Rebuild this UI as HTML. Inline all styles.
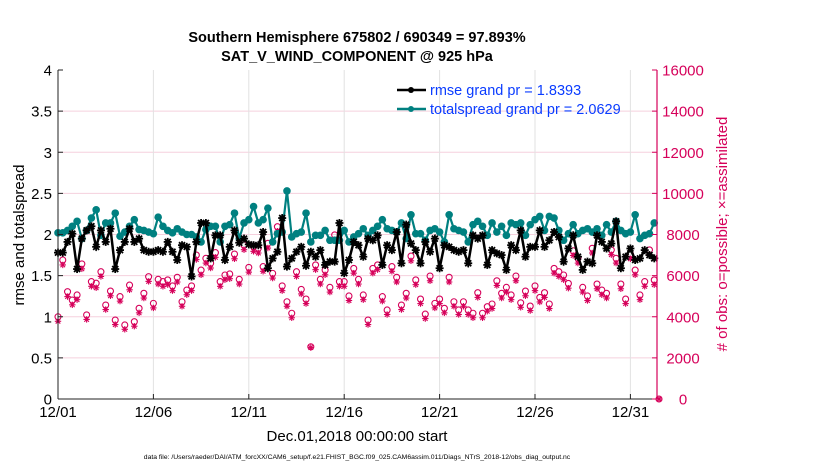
<!DOCTYPE html>
<html><head><meta charset="utf-8"><style>
body{margin:0;background:#fff;}
svg{display:block;font-family:"Liberation Sans",Arial,sans-serif;}
</style></head><body>
<svg id="chart" width="830" height="470">
<text x="357" y="42" text-anchor="middle" font-size="14.5" font-weight="bold">Southern Hemisphere 675802 / 690349 = 97.893%</text>
<text x="357" y="61" text-anchor="middle" font-size="14.5" font-weight="bold">SAT_V_WIND_COMPONENT @ 925 hPa</text>
<g id="grid"></g>
<g id="marks"></g>
<g id="axes"></g>
<text transform="translate(24,235) rotate(-90)" text-anchor="middle" font-size="15">rmse and totalspread</text>
<text transform="translate(727,234) rotate(-90)" text-anchor="middle" font-size="15" fill="#d6005a"># of obs: o=possible; ×=assimilated</text>
<text x="357" y="441" text-anchor="middle" font-size="15">Dec.01,2018 00:00:00 start</text>
<text x="357" y="459" text-anchor="middle" font-size="6.8">data file: /Users/raeder/DAI/ATM_forcXX/CAM6_setup/f.e21.FHIST_BGC.f09_025.CAM6assim.011/Diags_NTrS_2018-12/obs_diag_output.nc</text>
<g>
<line x1="397" y1="90" x2="426" y2="90" stroke="#000" stroke-width="2.5"/><circle cx="411" cy="90" r="3" fill="#000"/>
<text x="430" y="95" font-size="14.5" fill="#0a3cff">rmse grand pr = 1.8393</text>
<line x1="397" y1="109" x2="426" y2="109" stroke="#008080" stroke-width="2.5"/><circle cx="411" cy="109" r="3" fill="#008080"/>
<text x="430" y="114" font-size="14.5" fill="#0a3cff">totalspread grand pr = 2.0629</text>
</g>
</svg>
<script>
const xTickLabels=["12/01","12/06","12/11","12/16","12/21","12/26","12/31"];
const xTickDays=[0,5,10,15,20,25,30];
const yTicksLeft=[0,0.5,1,1.5,2,2.5,3,3.5,4];
const yTicksRight=[0,2000,4000,6000,8000,10000,12000,14000,16000];
const stepDays=0.25;
const rmse=[1.78,1.78,1.91,2.01,1.58,1.95,2.05,2.10,1.85,2.05,1.91,2.07,1.58,1.81,1.91,2.07,1.91,1.95,1.81,1.79,1.79,1.81,1.79,1.91,1.79,1.69,1.87,1.85,1.49,1.91,2.14,2.14,1.71,1.99,1.99,1.69,1.85,2.05,1.90,1.95,1.88,1.87,
1.87,2.03,1.59,1.71,1.79,2.20,1.61,1.71,1.79,1.85,1.62,1.79,1.73,1.81,1.63,1.67,1.67,2.14,1.53,1.69,1.91,1.87,1.73,1.95,1.93,1.99,1.63,1.87,1.81,2.03,1.65,2.12,1.89,1.81,1.65,1.91,1.79,1.95,1.59,1.87,1.85,1.81,1.79,
1.81,1.65,1.99,1.95,1.99,1.63,1.81,1.77,1.75,1.57,1.87,1.81,2.05,1.73,1.85,1.85,2.05,1.85,1.93,2.03,1.97,1.67,1.83,1.99,1.73,1.57,1.67,1.65,1.99,1.91,1.83,1.89,2.16,1.59,1.73,1.83,1.69,1.71,1.81,1.75,1.71];
const totalspread=[2.02,2.02,2.05,2.10,2.16,1.95,2.05,2.20,2.30,1.99,2.14,2.14,2.26,1.98,2.03,2.10,2.18,2.06,2.05,2.03,2.01,2.21,2.10,2.05,2.02,2.07,2.03,2.00,2.00,1.97,1.91,2.06,2.10,2.10,1.91,2.10,2.12,2.26,1.95,2.14,2.18,2.34,
2.14,2.18,2.32,1.91,2.01,2.03,2.53,1.97,2.01,2.03,2.26,1.91,1.99,1.99,2.05,1.93,1.93,1.93,2.05,1.91,1.97,2.01,2.07,1.99,2.05,2.10,2.18,2.07,2.05,2.03,2.14,1.95,2.24,2.01,2.01,1.93,2.05,2.07,2.03,1.91,2.24,2.07,2.05,
2.03,1.91,2.12,2.16,2.10,1.99,2.14,2.03,2.10,1.99,2.14,2.12,2.14,1.99,2.12,2.18,2.22,2.05,2.22,2.20,2.05,1.93,2.01,2.12,2.01,2.05,2.07,2.03,2.07,1.99,2.12,2.03,2.16,2.05,2.01,2.03,2.24,1.95,1.99,2.01,2.14];
const obsPossible=[4000,6760,5220,4810,5060,6570,4090,5710,5630,6190,4570,5250,3840,4980,3600,5540,3760,4410,5140,5950,4650,5820,5710,5790,5500,5920,4730,5300,5500,7000,6270,6840,6600,7120,5710,6030,6080,7050,5820,7490,6400,7410,
7330,6440,7570,6110,8380,5500,4730,4170,6190,5330,4860,2540,6520,5820,6270,5430,7980,5710,5710,5010,6350,5820,5060,3840,6350,6520,4980,4330,6440,5920,4570,5140,6950,5790,4860,4130,5980,4650,4860,4410,5920,4730,4330,
4730,4330,4170,5170,4170,4490,4620,5750,5140,5430,5060,5980,4680,5250,4520,5500,4940,5170,4620,6350,6190,6030,5620,7210,6840,5430,5010,7330,5590,5300,5140,7250,6840,5590,4860,7050,6270,5060,5710,7250,5790,0];
const obsAssimilated=[3780,6520,4980,4580,4830,6330,3870,5480,5410,5960,4350,5020,3620,4760,3390,5310,3540,4190,4910,5720,4430,5590,5480,5560,5270,5690,4510,5070,5270,6780,6040,6610,6370,6890,5480,5800,5850,6820,5590,7260,6170,7180,
7100,6210,7340,5880,8160,5270,4510,3950,5960,5110,4640,2500,6290,5590,6040,5200,7750,5480,5480,4790,6120,5590,4830,3620,6120,6290,4760,4110,6210,5690,4350,4910,6720,5560,4640,3910,5750,4430,4640,4190,5690,4510,4110,
4510,4110,3950,4940,3950,4270,4400,5520,4910,5200,4830,5750,4460,5020,4300,5270,4720,4940,4400,6120,5960,5800,5390,6980,6610,5200,4790,7100,5360,5070,4910,7020,6610,5360,4640,6820,6040,4830,5480,7020,5560,0];

const NS="http://www.w3.org/2000/svg";
const X0=58,X1=657,Y0=399,Y1=70,PXDAY=19.08;
function xs(d){return X0+d*PXDAY;}
function yl(v){return Y0-(v/4)*(Y0-Y1);}
function yr(v){return Y0-(v/16000)*(Y0-Y1);}
function mk(tag,attrs,parent){const e=document.createElementNS(NS,tag);for(const k in attrs)e.setAttribute(k,attrs[k]);parent.appendChild(e);return e;}
const grid=document.getElementById('grid'),marks=document.getElementById('marks'),axes=document.getElementById('axes');
mk('rect',{x:X0,y:Y1,width:X1-X0,height:Y0-Y1,fill:'#fff'},grid);
yTicksLeft.forEach(v=>{if(v>0&&v<4){const l=mk('line',{x1:X0,x2:X1,y1:yl(v),y2:yl(v),stroke:'#f5d0dd','stroke-width':1},grid);

}});
xTickDays.forEach(d=>{if(d>0){const l=mk('line',{x1:xs(d),x2:xs(d),y1:Y1,y2:Y0,stroke:'#e2e2e2','stroke-width':1},grid);

}});
const red='#d6005a';
obsPossible.forEach((v,i)=>{const x=xs(i*stepDays),y=yr(v);
const c=mk('circle',{cx:x,cy:y,r:3,fill:'none',stroke:red,'stroke-width':1.1},marks);

});
obsAssimilated.forEach((v,i)=>{const x=xs(i*stepDays),y=yr(v);
const g=mk('g',{stroke:red,'stroke-width':1.1},marks);


mk('line',{x1:x-3.2,x2:x+3.2,y1:y,y2:y},g);mk('line',{x1:x,x2:x,y1:y-3.2,y2:y+3.2},g);
mk('line',{x1:x-2.3,x2:x+2.3,y1:y-2.3,y2:y+2.3},g);mk('line',{x1:x-2.3,x2:x+2.3,y1:y+2.3,y2:y-2.3},g);});
const tp=totalspread.map((v,i)=>xs(i*stepDays)+','+yl(v)).join(' ');
const tl=mk('polyline',{points:tp,fill:'none',stroke:'#008080','stroke-width':2.2},marks);


totalspread.forEach((v,i)=>{const c=mk('circle',{cx:xs(i*stepDays),cy:yl(v),r:3.8,fill:'#008080'},marks);

});
const rp=rmse.map((v,i)=>xs(i*stepDays)+','+yl(v)).join(' ');
const rl=mk('polyline',{points:rp,fill:'none',stroke:'#000','stroke-width':2.5},marks);


rmse.forEach((v,i)=>{const x=xs(i*stepDays),y=yl(v);
const g=mk('g',{stroke:'#000','stroke-width':1.8},marks);


mk('circle',{cx:x,cy:y,r:2.5,fill:'#000',stroke:'none'},g);
mk('line',{x1:x-4,x2:x+4,y1:y,y2:y},g);mk('line',{x1:x,x2:x,y1:y-4,y2:y+4},g);
mk('line',{x1:x-3,x2:x+3,y1:y-3,y2:y+3},g);mk('line',{x1:x-3,x2:x+3,y1:y+3,y2:y-3},g);});
const la=mk('line',{x1:X0,x2:X0,y1:Y1,y2:Y0,stroke:'#222','stroke-width':1},axes);


const ba=mk('line',{x1:X0,x2:X1,y1:Y0,y2:Y0,stroke:'#222','stroke-width':1},axes);


const ra=mk('line',{x1:X1,x2:X1,y1:Y1,y2:Y0,stroke:red,'stroke-width':1.2},axes);


yTicksLeft.forEach(v=>{const y=yl(v);mk('line',{x1:X0,x2:X0+5,y1:y,y2:y,stroke:'#222'},axes);
const t=mk('text',{x:X0-6,y:y+5.5,'text-anchor':'end','font-size':15},axes);t.textContent=String(v);

});
yTicksRight.forEach(v=>{const y=yr(v);mk('line',{x1:X1-5,x2:X1,y1:y,y2:y,stroke:red},axes);
const t=mk('text',{x:683,y:y+5.5,'text-anchor':'middle','font-size':15,fill:red},axes);t.textContent=String(v);

});
xTickDays.forEach((d,i)=>{const x=xs(d);mk('line',{x1:x,x2:x,y1:Y0-5,y2:Y0,stroke:'#222'},axes);
const t=mk('text',{x:x,y:Y0+18,'text-anchor':'middle','font-size':15},axes);t.textContent=xTickLabels[i];

});
</script>
</body></html>
